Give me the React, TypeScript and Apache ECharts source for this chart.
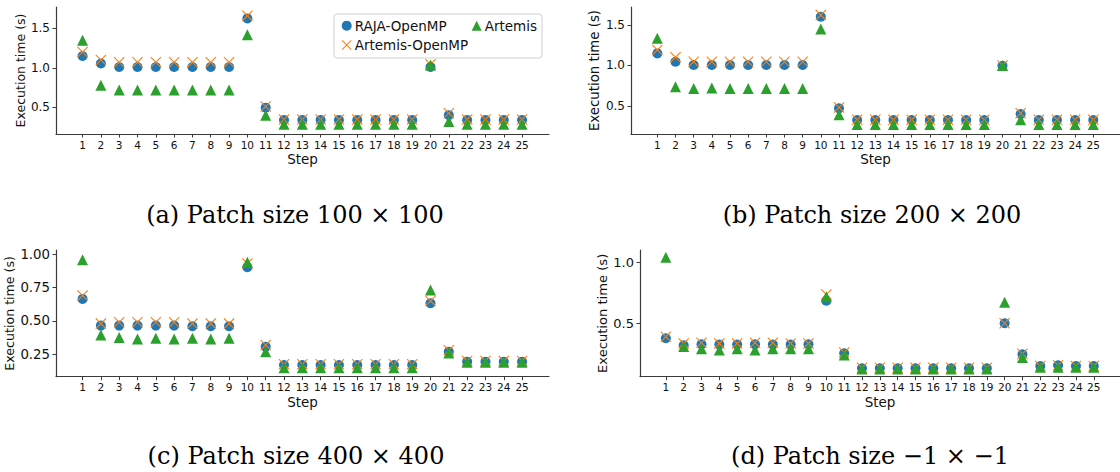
import React, { useEffect, useRef } from "react";
import * as echarts from "echarts";

const steps = [1, 2, 3, 4, 5, 6, 7, 8, 9, 10, 11, 12, 13, 14, 15, 16, 17, 18, 19, 20, 21, 22, 23, 24, 25];
const seriesNames = ["RAJA-OpenMP", "Artemis-OpenMP", "Artemis"];

// (a) Patch size 100 x 100
const rajaA = [1.15, 1.055, 1.01, 1.01, 1.01, 1.01, 1.01, 1.01, 1.01, 1.625, 0.495, 0.34, 0.34, 0.34, 0.34, 0.34, 0.34, 0.34, 0.34, 1.01, 0.40, 0.34, 0.34, 0.34, 0.34];
const artOmpA = [1.20, 1.10, 1.07, 1.07, 1.07, 1.07, 1.07, 1.07, 1.07, 1.66, 0.51, 0.345, 0.345, 0.345, 0.345, 0.345, 0.345, 0.345, 0.345, 1.045, 0.425, 0.345, 0.345, 0.345, 0.345];
const artemisA = [1.35, 0.78, 0.72, 0.72, 0.72, 0.72, 0.72, 0.72, 0.72, 1.42, 0.40, 0.284, 0.284, 0.284, 0.284, 0.284, 0.284, 0.284, 0.284, 1.035, 0.32, 0.284, 0.284, 0.284, 0.284];
// (b) Patch size 200 x 200
const rajaB = [1.148, 1.045, 1.005, 1.005, 1.005, 1.005, 1.005, 1.005, 1.005, 1.60, 0.47, 0.327, 0.327, 0.327, 0.327, 0.327, 0.327, 0.327, 0.327, 0.995, 0.40, 0.327, 0.327, 0.327, 0.327];
const artOmpB = [1.19, 1.10, 1.045, 1.045, 1.045, 1.045, 1.045, 1.045, 1.045, 1.62, 0.48, 0.33, 0.33, 0.33, 0.33, 0.33, 0.33, 0.33, 0.33, 1.0, 0.41, 0.33, 0.33, 0.33, 0.33];
const artemisB = [1.335, 0.736, 0.716, 0.72, 0.716, 0.716, 0.716, 0.716, 0.716, 1.45, 0.39, 0.27, 0.27, 0.27, 0.27, 0.27, 0.27, 0.27, 0.27, 1.0, 0.33, 0.27, 0.27, 0.27, 0.27];
// (c) Patch size 400 x 400
const rajaC = [0.665, 0.465, 0.465, 0.465, 0.465, 0.465, 0.46, 0.46, 0.46, 0.903, 0.307, 0.17, 0.17, 0.17, 0.17, 0.17, 0.17, 0.17, 0.17, 0.633, 0.27, 0.195, 0.195, 0.195, 0.195];
const artOmpC = [0.69, 0.48, 0.49, 0.49, 0.49, 0.49, 0.48, 0.48, 0.48, 0.93, 0.32, 0.175, 0.175, 0.175, 0.175, 0.175, 0.175, 0.175, 0.175, 0.65, 0.28, 0.2, 0.2, 0.2, 0.2];
const artemisC = [0.958, 0.395, 0.375, 0.365, 0.37, 0.365, 0.37, 0.365, 0.37, 0.94, 0.27, 0.15, 0.15, 0.15, 0.15, 0.15, 0.15, 0.15, 0.15, 0.733, 0.26, 0.19, 0.19, 0.19, 0.19];
// (d) Patch size -1 x -1
const rajaD = [0.377, 0.32, 0.327, 0.325, 0.325, 0.327, 0.325, 0.325, 0.327, 0.685, 0.254, 0.131, 0.131, 0.131, 0.131, 0.131, 0.131, 0.131, 0.131, 0.5, 0.246, 0.15, 0.155, 0.15, 0.15];
const artOmpD = [0.39, 0.335, 0.34, 0.335, 0.335, 0.34, 0.34, 0.335, 0.335, 0.735, 0.26, 0.135, 0.135, 0.135, 0.135, 0.135, 0.135, 0.135, 0.135, 0.5, 0.25, 0.15, 0.155, 0.15, 0.15];
const artemisD = [1.04, 0.31, 0.29, 0.28, 0.29, 0.28, 0.29, 0.29, 0.29, 0.718, 0.24, 0.125, 0.125, 0.125, 0.125, 0.125, 0.125, 0.125, 0.125, 0.672, 0.22, 0.14, 0.14, 0.14, 0.14];

const yTicksA = [0.5, 1.0, 1.5];
const yTicksB = [0.5, 1.0, 1.5];
const yTicksC = [0.25, 0.5, 0.75, 1.0];
const yTicksD = [0.5, 1.0];

const captions = [
  "(a) Patch size 100 × 100",
  "(b) Patch size 200 × 200",
  "(c) Patch size 400 × 400",
  "(d) Patch size −1 × −1",
];

const COLORS = ["#1f77b4", "#ff7f0e", "#2ca02c"];
const SANS = "DejaVu Sans";
const SERIF = "DejaVu Serif";
const AXIS_COLOR = "#3a3a3a";
const XSYM =
  "path://M0,7L7,0L50,43L93,0L100,7L57,50L100,93L93,100L50,57L7,100L0,93L43,50Z";

export default function App() {
  const ref = useRef<HTMLDivElement>(null);

  useEffect(() => {
    if (!ref.current) return;
    const chart = echarts.init(ref.current, undefined, { renderer: "svg" });

    const panels = [
      { grid: { left: 56, top: 7, width: 493, height: 127 }, ymin: 0.162, ymax: 1.77, ticks: yTicksA, dec: 1, yfs: 12, nfs: 12.5, ngap: 29.5, data: [rajaA, artOmpA, artemisA] },
      { grid: { left: 631, top: 7, width: 493.5, height: 127 }, ymin: 0.154, ymax: 1.72, ticks: yTicksB, dec: 1, yfs: 12, nfs: 13.3, ngap: 30, data: [rajaB, artOmpB, artemisB] },
      { grid: { left: 56, top: 250, width: 493, height: 126.7 }, ymin: 0.082, ymax: 1.032, ticks: yTicksC, dec: 2, yfs: 13.3, nfs: 12.6, ngap: 38.5, data: [rajaC, artOmpC, artemisC] },
      { grid: { left: 640, top: 250, width: 485.6, height: 126.7 }, ymin: 0.062, ymax: 1.1, ticks: yTicksD, dec: 1, yfs: 13, nfs: 13.1, ngap: 30, data: [rajaD, artOmpD, artemisD] },
    ];

    const symbols = ["circle", XSYM, "triangle"];
    const sizes = [10, 11, 11];

    const series: any[] = [];
    panels.forEach((p, i) => {
      p.data.forEach((vals, k) => {
        series.push({
          type: "scatter",
          name: seriesNames[k],
          xAxisIndex: i,
          yAxisIndex: i,
          symbol: symbols[k],
          symbolSize: sizes[k],
          clip: false,
          z: 2 + k,
          itemStyle: { color: COLORS[k], opacity: 1 },
          data: steps.map((s, j) => [s, vals[j]]),
        });
      });
    });

    const captionPos = [
      [295, 215],
      [872, 215],
      [296, 456],
      [870, 456],
    ];

    const legendText = { fontFamily: SANS, fontSize: 13.5, lineHeight: 14, color: "#111", padding: [0, 0, 0, -2] };

    chart.setOption({
      animation: false,
      backgroundColor: "#ffffff",
      textStyle: { fontFamily: SANS },
      grid: panels.map((p) => ({ ...p.grid, containLabel: false })),
      xAxis: panels.map((p, i) => ({
        type: "value",
        gridIndex: i,
        min: -0.45,
        max: 26.47,
        name: "Step",
        nameLocation: "middle",
        nameGap: 18,
        nameTextStyle: { fontFamily: SANS, fontSize: 13.5, color: "#111" },
        axisLine: { show: true, onZero: false, lineStyle: { color: AXIS_COLOR, width: 1.2 } },
        axisTick: { show: true, length: 3.5, customValues: steps, lineStyle: { color: AXIS_COLOR, width: 1 } },
        axisLabel: {
          show: true,
          customValues: steps,
          fontFamily: SANS,
          fontSize: 10.5,
          color: "#111",
          margin: 5,
          formatter: (v: number) => String(v),
        },
        splitLine: { show: false },
      })),
      yAxis: panels.map((p, i) => ({
        type: "value",
        gridIndex: i,
        min: p.ymin,
        max: p.ymax,
        name: "Execution time (s)",
        nameLocation: "middle",
        nameGap: p.ngap,
        nameTextStyle: { fontFamily: SANS, fontSize: p.nfs, color: "#111" },
        axisLine: { show: true, onZero: false, lineStyle: { color: AXIS_COLOR, width: 1.2 } },
        axisTick: { show: true, length: 3.5, customValues: p.ticks, lineStyle: { color: AXIS_COLOR, width: 1 } },
        axisLabel: {
          show: true,
          customValues: p.ticks,
          fontFamily: SANS,
          fontSize: p.yfs,
          color: "#111",
          margin: 6,
          formatter: (v: number) => v.toFixed(p.dec),
        },
        splitLine: { show: false },
      })),
      legend: [
        {
          data: ["RAJA-OpenMP", "Artemis-OpenMP"],
          orient: "vertical",
          left: 341.7,
          top: 18.7,
          padding: 0,
          itemWidth: 10,
          itemHeight: 10,
          itemGap: 5.3,
          selectedMode: false,
          z: 10,
          textStyle: legendText,
        },
        {
          data: ["Artemis"],
          orient: "vertical",
          left: 471.7,
          top: 18.7,
          padding: 0,
          itemWidth: 10,
          itemHeight: 10,
          itemGap: 5.3,
          selectedMode: false,
          z: 10,
          textStyle: legendText,
        },
      ],
      graphic: [
        {
          type: "rect",
          z: 1,
          shape: { x: 334, y: 14, width: 208, height: 44, r: 3 },
          style: { fill: "rgba(255,255,255,0.85)", stroke: "#d0d0d0", lineWidth: 1 },
        },
        ...captions.map((t, i) => ({
          type: "text",
          x: captionPos[i][0],
          y: captionPos[i][1],
          style: {
            text: t,
            fontFamily: SERIF,
            fontSize: 24,
            fill: "#000",
            textAlign: "center",
            textVerticalAlign: "middle",
          },
        })),
      ],
      series,
    });

    return () => chart.dispose();
  }, []);

  return (
    <div
      ref={ref}
      style={{ position: "fixed", left: 0, top: 0, width: 1120, height: 472, background: "#fff" }}
    />
  );
}
